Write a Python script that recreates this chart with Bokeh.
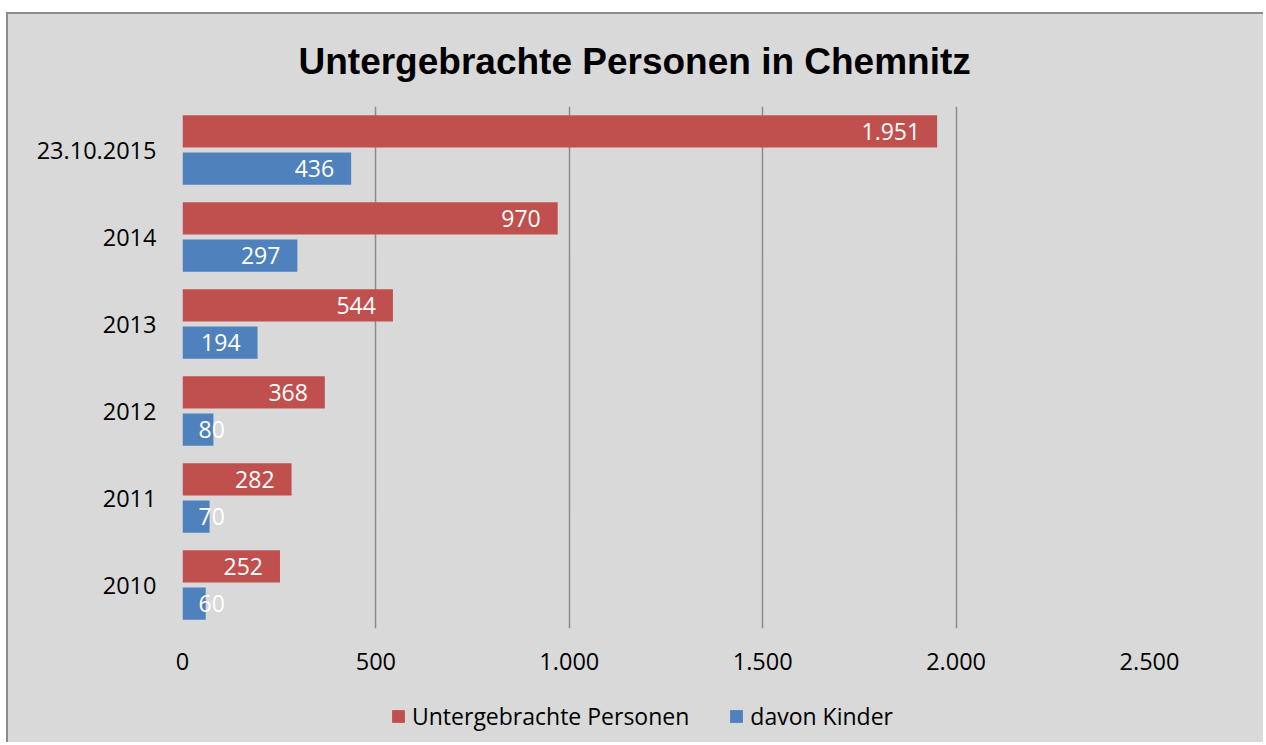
from bokeh.plotting import figure
from bokeh.layouts import column
from bokeh.models import ColumnDataSource, FactorRange, FixedTicker, Legend, LegendItem, Title
from bokeh.transform import dodge
from bokeh.core.properties import value
from bokeh.embed import file_html
from bokeh.resources import INLINE

categories = ["2010", "2011", "2012", "2013", "2014", "23.10.2015"]
personen = [252, 282, 368, 544, 970, 1951]
kinder = [60, 70, 80, 194, 297, 436]
x_ticks = [0, 500, 1000, 1500, 2000, 2500]
x_tick_labels = ["0", "500", "1.000", "1.500", "2.000", "2.500"]
series_names = ["Untergebrachte Personen", "davon Kinder"]
colors = ["#c0504d", "#4f81bd"]

def fmt(v):
    return f"{v:,}".replace(",", ".")

FONT = "Open Sans"
GRAY_BG = "#d9d9d9"
BORDER = "2px solid #8c8c8c"
FS = "23.5px"

# main chart: canvas starts at (8, 14): frame 182..1149 x, 106..628 y
p = figure(
    width=1257, height=676,
    y_range=FactorRange(*categories, range_padding=0),
    x_range=(0, 2500),
    output_backend="svg", toolbar_location=None,
    min_border_left=174, min_border_right=116,
    min_border_top=92, min_border_bottom=62,
    background_fill_color=GRAY_BG, border_fill_color=GRAY_BG,
    outline_line_color=None,
    margin=(12, 0, 0, 6),
)
p.styles = {"border-left": BORDER, "border-top": BORDER, "background-color": GRAY_BG}

p.add_layout(Title(text="Untergebrachte Personen in Chemnitz", align="left", offset=116,
                   text_font="Liberation Sans", text_font_size="37px", text_font_style="bold",
                   text_color="black", standoff=49), "above")

src = ColumnDataSource(dict(cat=categories, personen=personen, kinder=kinder))

r1 = p.hbar(y=dodge("cat", 0.215, range=p.y_range), right="personen", left=0, height=0.37,
            source=src, fill_color=colors[0], line_color=None)
r2 = p.hbar(y=dodge("cat", -0.215, range=p.y_range), right="kinder", left=0, height=0.37,
            source=src, fill_color=colors[1], line_color=None)

# data labels
def label_sources(vals):
    big = dict(cat=[], x=[], t=[])
    small = dict(cat=[], x=[], t=[])
    for c, v in zip(categories, vals):
        d = big if v >= 150 else small
        d["cat"].append(c)
        d["x"].append(v if v >= 150 else 0)
        d["t"].append(fmt(v))
    return ColumnDataSource(big), ColumnDataSource(small)

for vals, off in [(personen, 0.215), (kinder, -0.215)]:
    b, s = label_sources(vals)
    p.text(x="x", y=dodge("cat", off, range=p.y_range), text="t", source=b,
           text_align="right", text_baseline="middle", x_offset=-17,
           text_color="white", text_font=value(FONT), text_font_size="23px")
    p.text(x="x", y=dodge("cat", off, range=p.y_range), text="t", source=s,
           text_align="left", text_baseline="middle", x_offset=16,
           text_color="white", text_font=value(FONT), text_font_size="23px")

p.xaxis.ticker = FixedTicker(ticks=x_ticks)
p.xaxis.major_label_overrides = {t: l for t, l in zip(x_ticks, x_tick_labels)}
p.xaxis.axis_line_color = None
p.xaxis.major_tick_line_color = None
p.xaxis.minor_tick_line_color = None
p.xaxis.major_label_standoff = 18
p.xaxis.major_label_text_font = FONT
p.xaxis.major_label_text_font_size = FS
p.xaxis.major_label_text_color = "black"

p.yaxis.axis_line_color = None
p.yaxis.major_tick_line_color = None
p.yaxis.major_label_standoff = 20
p.yaxis.major_label_text_font = FONT
p.yaxis.major_label_text_font_size = FS
p.yaxis.major_label_text_color = "black"

p.xgrid.grid_line_color = "#8c8c8c"
p.xgrid.grid_line_width = 1.5
p.ygrid.grid_line_color = None

# legend strip below the chart (its frame is aligned with the chart's frame)
q = figure(
    width=1257, height=54, x_range=(0, 1), y_range=(0, 1),
    output_backend="svg", toolbar_location=None,
    min_border=0, background_fill_color=GRAY_BG, border_fill_color=GRAY_BG,
    outline_line_color=None, margin=(0, 0, 0, 6),
)
q.styles = {"border-left": BORDER, "background-color": GRAY_BG}
q.axis.visible = False
q.grid.visible = False
# legend-key renderers (zero-width, invisible in the strip)
l1 = q.hbar(y=[-1], left=[-1], right=[-1], height=0.1, fill_color=colors[0], line_color=None)
l2 = q.hbar(y=[-1], left=[-1], right=[-1], height=0.1, fill_color=colors[1], line_color=None)

legend = Legend(items=[LegendItem(label=series_names[0], renderers=[l1]),
                       LegendItem(label=series_names[1], renderers=[l2])],
                orientation="horizontal", location=(208, 10),
                background_fill_alpha=0, border_line_color=None,
                label_text_font=FONT, label_text_font_size="23px", label_text_color="black",
                glyph_width=16, glyph_height=16, label_standoff=6, spacing=39,
                margin=0, padding=0)
q.add_layout(legend, "center")

layout = column(p, q, spacing=0)
open("out.html", "w").write(file_html(layout, INLINE))
